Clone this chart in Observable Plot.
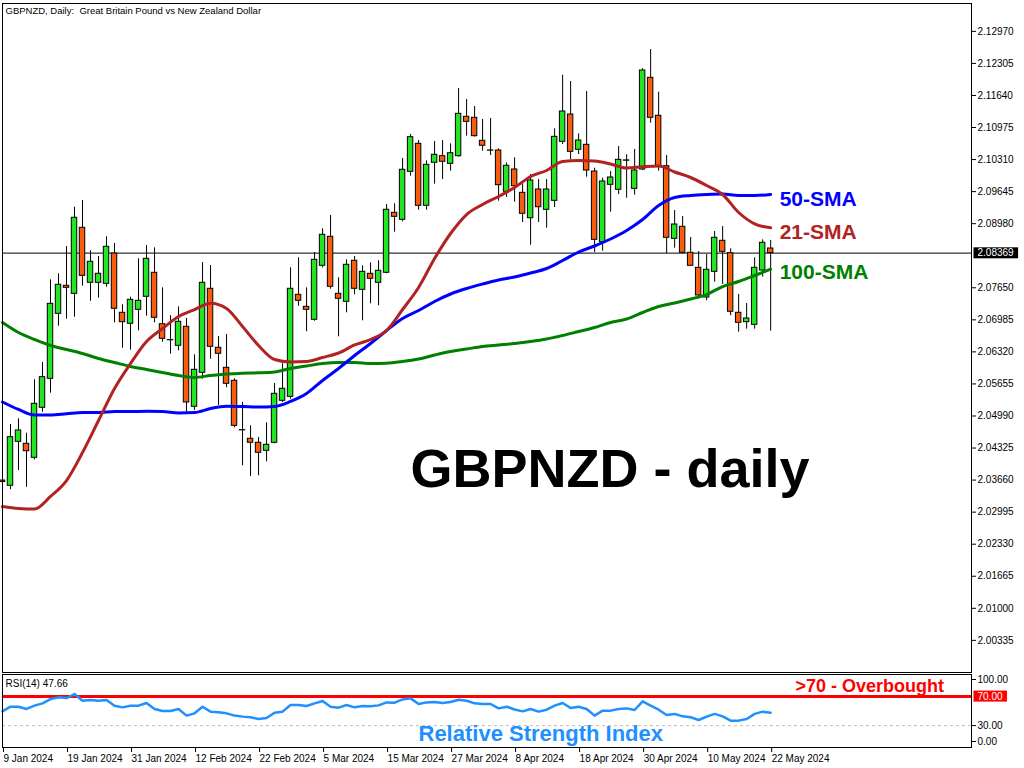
<!DOCTYPE html>
<html><head><meta charset="utf-8">
<script src="https://cdn.jsdelivr.net/npm/d3@7"></script>
<script src="https://cdn.jsdelivr.net/npm/@observablehq/plot@0.6"></script>
<style>
html,body{margin:0;padding:0;background:#fff;}
#wrap{position:relative;width:1024px;height:768px;overflow:hidden;background:#fff;font-family:"Liberation Sans",Arial,sans-serif;}
#main,#rsi{position:absolute;left:0;}
#main{top:0;}
#rsi{top:673px;}
</style></head>
<body><div id="wrap"><div id="main"></div><div id="rsi"></div></div>
<script>
// ---------- data ----------
const dateLabels = ["9 Jan 2024","19 Jan 2024","31 Jan 2024","12 Feb 2024","22 Feb 2024","5 Mar 2024","15 Mar 2024","27 Mar 2024","8 Apr 2024","18 Apr 2024","30 Apr 2024","10 May 2024","22 May 2024"];
const dateTickIndex = [0,8,16,24,32,40,48,56,64,72,80,88,96];

const open = [2.03651,2.03542,2.04454,2.04413,2.04122,2.05160,2.05761,2.07110,2.07691,2.07525,2.08894,2.07753,2.07753,2.07732,2.08361,2.07131,2.06903,2.07193,2.07463,2.07961,2.06894,2.06565,2.06446,2.06840,2.05181,2.05886,2.07629,2.06405,2.05990,2.05720,2.04697,2.04517,2.04434,2.04268,2.04434,2.05305,2.05388,2.07504,2.07255,2.06986,2.08106,2.08708,2.07525,2.07359,2.08210,2.07608,2.07940,2.07753,2.07961,2.09205,2.09060,2.10056,2.10637,2.09351,2.10243,2.10380,2.10222,2.10380,2.11197,2.11176,2.10699,2.10500,2.10498,2.09641,2.10104,2.09620,2.09093,2.09689,2.09268,2.09454,2.10678,2.11245,2.10513,2.10616,2.10062,2.08595,2.09786,2.09683,2.10293,2.09703,2.10104,2.12006,2.11218,2.10172,2.08666,2.08915,2.08376,2.08064,2.07448,2.07981,2.08625,2.08367,2.07131,2.06936,2.06882,2.08008,2.08465];
const high = [2.03714,2.04813,2.04932,2.04633,2.05741,2.06100,2.07815,2.07940,2.08506,2.09322,2.09461,2.08417,2.08299,2.08708,2.08569,2.07297,2.07454,2.08251,2.08527,2.08479,2.07649,2.07069,2.07255,2.07013,2.06259,2.08174,2.08112,2.06639,2.06681,2.05761,2.05270,2.04786,2.04544,2.04849,2.05664,2.06073,2.08064,2.08272,2.07649,2.08382,2.08874,2.09149,2.07857,2.08230,2.08299,2.08106,2.08168,2.08210,2.09378,2.09392,2.10332,2.10830,2.10705,2.10284,2.10685,2.10705,2.10637,2.11784,2.11556,2.11411,2.11141,2.11162,2.10533,2.10243,2.10347,2.09807,2.10000,2.09896,2.09896,2.10948,2.12060,2.11930,2.10844,2.11722,2.10131,2.09923,2.10062,2.10581,2.10409,2.10519,2.12199,2.12593,2.11708,2.10394,2.09253,2.09129,2.08693,2.08403,2.08340,2.08817,2.08921,2.08459,2.07510,2.07324,2.08272,2.08645,2.08631];
const low = [2.03527,2.03459,2.03859,2.03512,2.04081,2.05069,2.05463,2.06853,2.06998,2.07039,2.07683,2.07371,2.07434,2.07662,2.06923,2.06396,2.06355,2.06757,2.07060,2.06923,2.06521,2.06272,2.06342,2.05069,2.05104,2.05753,2.06168,2.05208,2.05575,2.04745,2.03956,2.03734,2.03749,2.04039,2.04413,2.05270,2.05338,2.07268,2.06737,2.06956,2.08064,2.07620,2.06633,2.07131,2.07504,2.06965,2.07317,2.07276,2.07940,2.08803,2.09019,2.09965,2.09259,2.09259,2.09799,2.09896,2.10069,2.10359,2.10795,2.10778,2.10483,2.10394,2.09446,2.09523,2.09425,2.09004,2.08533,2.09004,2.08886,2.09315,2.10622,2.10305,2.10415,2.09944,2.08382,2.08409,2.09218,2.09585,2.09508,2.09571,2.10083,2.11064,2.10069,2.08355,2.08471,2.08355,2.08106,2.07469,2.07380,2.07766,2.07718,2.07069,2.06728,2.06791,2.06791,2.07869,2.06749];
const close = [2.03620,2.04550,2.04689,2.04259,2.05243,2.05795,2.07317,2.07712,2.07649,2.09102,2.07898,2.08189,2.07940,2.08500,2.07214,2.06936,2.07400,2.07380,2.08251,2.07027,2.06591,2.06560,2.06944,2.05270,2.05948,2.07753,2.06425,2.06280,2.05658,2.04786,2.04692,2.04434,2.04226,2.04392,2.05450,2.05554,2.07629,2.07380,2.07193,2.08230,2.08749,2.07670,2.07421,2.08127,2.07629,2.07981,2.07836,2.08002,2.09268,2.09122,2.10098,2.10774,2.09351,2.10201,2.10409,2.10264,2.10442,2.11259,2.11093,2.10795,2.10596,2.10495,2.09778,2.10181,2.09757,2.09185,2.09876,2.09322,2.09689,2.10782,2.11307,2.10471,2.10705,2.10083,2.08645,2.09855,2.09938,2.10305,2.10286,2.10083,2.12158,2.11176,2.10166,2.08687,2.08963,2.08376,2.08106,2.07490,2.08023,2.08687,2.08396,2.07152,2.06923,2.07013,2.08064,2.08583,2.08369];

// moving averages read every 2 bars
const smaIndex = [0,2,4,6,8,10,12,14,16,18,20,22,24,26,28,30,32,34,36,38,40,42,44,46,48,50,52,54,56,58,60,62,64,66,68,70,72,74,76,78,80,82,84,86,88,90,92,94,96];
const sma21 = [2.03112,2.03071,2.03060,2.03320,2.03651,2.04232,2.04896,2.05560,2.06079,2.06535,2.06805,2.07054,2.07199,2.07330,2.07220,2.06847,2.06452,2.06162,2.06110,2.06120,2.06203,2.06297,2.06463,2.06577,2.06764,2.07199,2.07656,2.08257,2.08776,2.09170,2.09378,2.09544,2.09730,2.09959,2.10083,2.10270,2.10291,2.10280,2.10218,2.10135,2.10160,2.10176,2.10052,2.09938,2.09772,2.09585,2.09212,2.08977,2.08894];
const sma50 = [2.05280,2.05125,2.05010,2.05010,2.05035,2.05062,2.05062,2.05083,2.05083,2.05087,2.05083,2.05052,2.05062,2.05145,2.05193,2.05187,2.05176,2.05187,2.05291,2.05456,2.05726,2.05975,2.06245,2.06494,2.06764,2.07013,2.07178,2.07365,2.07521,2.07635,2.07728,2.07811,2.07874,2.07956,2.08050,2.08216,2.08392,2.08517,2.08662,2.08838,2.09066,2.09357,2.09523,2.09564,2.09585,2.09596,2.09564,2.09564,2.09585];
const sma100 = [2.06930,2.06722,2.06577,2.06452,2.06369,2.06286,2.06183,2.06100,2.06017,2.05954,2.05892,2.05830,2.05788,2.05830,2.05861,2.05878,2.05886,2.05903,2.05975,2.06027,2.06079,2.06100,2.06100,2.06079,2.06085,2.06120,2.06172,2.06255,2.06328,2.06380,2.06432,2.06463,2.06494,2.06535,2.06587,2.06660,2.06743,2.06826,2.06930,2.07002,2.07137,2.07261,2.07334,2.07417,2.07510,2.07676,2.07780,2.07905,2.08035];

const rsi = [49.5,55.9,55.9,52.8,57.3,60.5,66.4,68.7,67.8,73.2,64.1,65,64.1,65,57.3,55,57.3,57.3,61,52.8,50,50,52.8,43.7,46.8,55.9,49.1,48.2,46.8,43.7,42.3,41.4,39.1,40.5,47.7,49.1,58.2,58.2,56.9,60.5,63.7,55.9,54.6,58.2,55,56.9,56.4,57.7,61.8,61.4,65.9,67.3,59.6,61.8,62.4,61,62.4,65.5,64.1,60.5,59.6,59.6,53.6,55.9,52,49.5,52.8,49.1,51.8,57.3,61,54.1,55.9,52.8,43.7,50.5,50.5,52.8,53.6,51.4,63.2,57.3,51.8,44.6,46,42.7,41.4,37.7,42.3,46,42.7,36.8,36.8,39.1,46,49.1,47.66];

const priceTicks = [2.12970,2.12305,2.11640,2.10975,2.10310,2.09645,2.08980,2.07650,2.06985,2.06320,2.05655,2.04990,2.04325,2.03660,2.02995,2.02330,2.01665,2.01000,2.00335];
const lastPrice = 2.08369;
const rsiLast = 47.66;

// ---------- derived tables ----------
const candles = open.map((o, i) => ({i, open: o, high: high[i], low: low[i], close: close[i]}));
const smaTable = (vals) => vals.map((v, k) => ({i: smaIndex[k], v}));
const rsiTable = rsi.map((v, i) => ({i, v}));

const FONT = '"Liberation Sans", Arial, sans-serif';
const xDomain = [0, 121.1];
const UP = "#22e622", DOWN = "#f95c0c";
const C21 = "#b22222", C50 = "#0000ff", C100 = "#008000";

const main = Plot.plot({
  width: 1024, height: 673,
  marginLeft: 2, marginRight: 53, marginTop: 3, marginBottom: 1,
  x: {domain: xDomain, axis: null},
  y: {domain: [1.99668, 2.13548]},
  style: {fontFamily: FONT, fontSize: "10px", background: "white", overflow: "visible"},
  marks: [
    Plot.ruleY([lastPrice], {stroke: "black", strokeWidth: 1}),
    Plot.ruleX(candles, {x: "i", y1: "low", y2: "high", stroke: "black", strokeWidth: 1}),
    Plot.rect(candles, {x1: d => d.i - 0.34, x2: d => d.i + 0.34, y1: "open", y2: "close",
      fill: d => d.close >= d.open ? UP : DOWN, stroke: "black", strokeWidth: 1}),
    Plot.line(smaTable(sma100), {x: "i", y: "v", stroke: C100, strokeWidth: 3, curve: "monotone-x"}),
    Plot.line(smaTable(sma50), {x: "i", y: "v", stroke: C50, strokeWidth: 3, curve: "monotone-x"}),
    Plot.line(smaTable(sma21), {x: "i", y: "v", stroke: C21, strokeWidth: 3, curve: "monotone-x"}),
    Plot.frame({stroke: "black", strokeWidth: 1}),
    Plot.axisY({anchor: "right", label: null, ticks: priceTicks, tickFormat: d => d.toFixed(5), tickSize: 4, tickPadding: 2, fontSize: 10, stroke: "black"}),
    Plot.text([lastPrice], {y: d => d, frameAnchor: "right", dx: 6, textAnchor: "start", lineAnchor: "middle", text: d => d.toFixed(5), fill: "white", fontSize: 10}),
    // SMA labels anchored to each line's last value
    Plot.text([sma50[sma50.length - 1]], {x: () => smaIndex[smaIndex.length - 1], y: d => d, dx: 9, dy: 5, text: () => "50-SMA", textAnchor: "start", fill: C50, fontSize: 21, fontWeight: "bold"}),
    Plot.text([sma21[sma21.length - 1]], {x: () => smaIndex[smaIndex.length - 1], y: d => d, dx: 9, dy: 4, text: () => "21-SMA", textAnchor: "start", fill: C21, fontSize: 21, fontWeight: "bold"}),
    Plot.text([sma100[sma100.length - 1]], {x: () => smaIndex[smaIndex.length - 1], y: d => d, dx: 9, dy: 3, text: () => "100-SMA", textAnchor: "start", fill: C100, fontSize: 21, fontWeight: "bold"}),
    // titles
    Plot.text(["GBPNZD, Daily:  Great Britain Pound vs New Zealand Dollar"], {frameAnchor: "top-left", dx: 3, dy: 7, lineAnchor: "middle", text: d => d, textAnchor: "start", fill: "black", fontSize: 9.5}),
    Plot.text(["GBPNZD - daily"], {frameAnchor: "top-left", dx: 408, dy: 466, lineAnchor: "middle", text: d => d, textAnchor: "start", fill: "black", fontSize: 54, fontWeight: "900"})
  ]
});
document.getElementById("main").appendChild(main);

const rsiPlot = Plot.plot({
  width: 1024, height: 95,
  marginLeft: 2, marginRight: 53, marginTop: 1, marginBottom: 21,
  x: {domain: xDomain},
  y: {domain: [0, 100]},
  style: {fontFamily: FONT, fontSize: "10px", background: "transparent", overflow: "visible"},
  marks: [
    Plot.ruleY([30], {stroke: "#c0c0c0", strokeWidth: 1, strokeDasharray: "3,3"}),
    Plot.ruleY([70], {stroke: "#ff0000", strokeWidth: 3}),
    Plot.line(rsiTable, {x: "i", y: "v", stroke: "#1e90ff", strokeWidth: 2.5}),
    Plot.frame({stroke: "black", strokeWidth: 1}),
    Plot.axisY({anchor: "right", label: null, ticks: [30], tickFormat: d => d.toFixed(2), tickSize: 4, tickPadding: 2, fontSize: 10}),
    Plot.axisY({anchor: "right", label: null, ticks: [100], tickFormat: d => d.toFixed(2), tickSize: 4, tickPadding: 2, fontSize: 10, dy: 5}),
    Plot.axisY({anchor: "right", label: null, ticks: [0], tickFormat: d => d.toFixed(2), tickSize: 4, tickPadding: 2, fontSize: 10, dy: -6}),
    Plot.text([70], {y: d => d, frameAnchor: "right", dx: 6, textAnchor: "start", lineAnchor: "middle", text: d => d.toFixed(2), fill: "white", fontSize: 10}),
    Plot.axisX({anchor: "bottom", label: null, ticks: dateTickIndex, tickFormat: d => dateLabels[dateTickIndex.indexOf(d)], tickSize: 5, tickPadding: 2, textAnchor: "start", dx: 1, fontSize: 10}),
    Plot.text([`RSI(14) ${rsiLast.toFixed(2)}`], {frameAnchor: "top-left", dx: 3, dy: 9, lineAnchor: "middle", text: d => d, textAnchor: "start", fill: "black", fontSize: 10}),
    Plot.text([">70 - Overbought"], {frameAnchor: "top-left", dx: 793, dy: 12, lineAnchor: "middle", text: d => d, textAnchor: "start", fill: "#ff0000", fontSize: 18, fontWeight: "bold"}),
    Plot.text(["Relative Strength Index"], {frameAnchor: "top-left", dx: 416, dy: 59, lineAnchor: "middle", text: d => d, textAnchor: "start", fill: "#1e90ff", fontSize: 22, fontWeight: "bold"})
  ]
});
document.getElementById("rsi").appendChild(rsiPlot);

// background boxes behind the current-value labels
function boxLabel(svg, txt, fill) {
  const t = Array.from(svg.querySelectorAll("text")).find(e => e.textContent === txt);
  if (!t) return;
  const b = t.getBBox();
  const r = document.createElementNS("http://www.w3.org/2000/svg", "rect");
  r.setAttribute("x", b.x - 4);
  r.setAttribute("y", b.y);
  r.setAttribute("width", b.width + 8);
  r.setAttribute("height", b.height);
  r.setAttribute("fill", fill);
  if (t.getAttribute("transform")) r.setAttribute("transform", t.getAttribute("transform"));
  t.parentNode.insertBefore(r, t);
}
boxLabel(main, lastPrice.toFixed(5), "black");
boxLabel(rsiPlot, "70.00", "#ff0000");
</script>
</body></html>
